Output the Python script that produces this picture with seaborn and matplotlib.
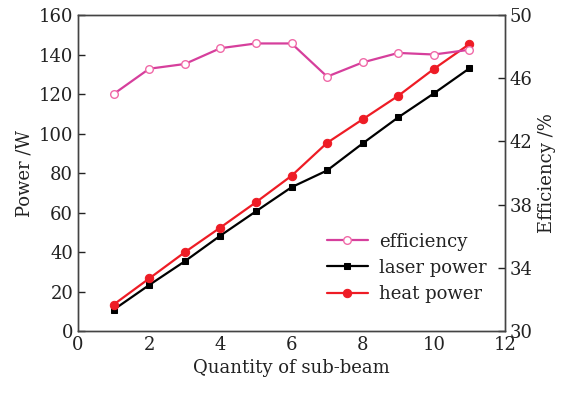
import matplotlib
matplotlib.use("Agg")
import matplotlib.pyplot as plt
import seaborn as sns
import pandas as pd

sub_beams = [1, 2, 3, 4, 5, 6, 7, 8, 9, 10, 11]
laser_power = [10.8, 23.3, 35.3, 48.3, 60.6, 72.8, 81.3, 95.0, 108.2, 120.3, 133.0]
heat_power = [13.4, 26.6, 39.9, 52.4, 65.2, 78.6, 95.3, 107.2, 119.1, 132.7, 145.3]
efficiency = [45.0, 46.6, 46.9, 47.9, 48.2, 48.2, 46.1, 47.0, 47.6, 47.5, 47.8]

sns.set_theme(style="white")
plt.rcParams['font.family'] = ['DejaVu Serif']
plt.rcParams['mathtext.fontset'] = 'dejavuserif'

df = pd.DataFrame({"n": sub_beams, "laser": laser_power, "heat": heat_power, "eff": efficiency})

fig = plt.figure(figsize=(5.7, 3.95), dpi=100)
ax = fig.add_axes([0.137, 0.162, 0.749, 0.800])
ax2 = ax.twinx()

sns.lineplot(data=df, x="n", y="eff", ax=ax2, color="#d63f9c", marker="o", markersize=5.5,
             markerfacecolor="white", markeredgecolor="#f06aa8", markeredgewidth=1.0,
             linewidth=1.6, label="efficiency", legend=False)
sns.lineplot(data=df, x="n", y="laser", ax=ax, color="black", marker="s", markersize=5,
             markeredgecolor="black", linewidth=1.6, label="laser power", legend=False)
sns.lineplot(data=df, x="n", y="heat", ax=ax, color="#ee1c25", marker="o", markersize=6,
             markeredgecolor="#ee1c25", linewidth=1.6, label="heat power", legend=False)

ax.set_xlim(0, 12)
ax.set_ylim(0, 160)
ax2.set_ylim(30, 50)
ax.set_xticks(range(0, 13, 2))
ax.set_yticks(range(0, 161, 20))
ax2.set_yticks([30, 34, 38, 42, 46, 50])

ax.set_xlabel("Quantity of sub-beam", fontsize=13, color="#222222")
ax.set_ylabel("Power /W", fontsize=13, color="#222222")
ax2.set_ylabel("Efficiency /%", fontsize=13, color="#222222")

for a in (ax, ax2):
    a.tick_params(direction="in", length=5, width=1, labelsize=13, colors="#222222")
    for s in a.spines.values():
        s.set_color("#444444")
        s.set_linewidth(1.0)
ax.tick_params(axis="y", which="both", right=False)
ax2.tick_params(axis="y", which="both", left=False, right=True)

h1, l1 = ax2.get_legend_handles_labels()
h2, l2 = ax.get_legend_handles_labels()
leg = ax.legend(h1 + h2, l1 + l2, loc="center left", bbox_to_anchor=(0.565, 0.20),
                frameon=False, fontsize=13, handlelength=2.3, labelspacing=0.45,
                handletextpad=0.6, borderaxespad=0)
for t in leg.get_texts():
    t.set_color("#222222")

fig.savefig("out.png", dpi=100)
